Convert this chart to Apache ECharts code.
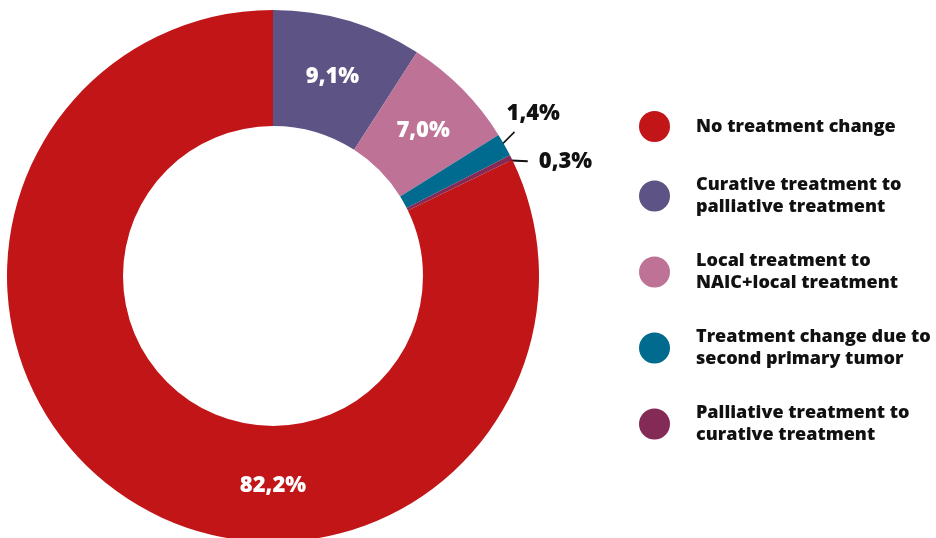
<!DOCTYPE html>
<html>
<head>
<meta charset="utf-8">
<script src="https://cdn.jsdelivr.net/npm/echarts@6/dist/echarts.min.js"></script>
<style>
  html, body { margin: 0; padding: 0; background: #ffffff; }
  #chart { width: 936px; height: 538px; }
</style>
</head>
<body>
<div id="chart"></div>
<script>
// Treatment change categories, in drawing order (clockwise from 12 o'clock)
const categories = [
  'Curative treatment to\npalliative treatment',
  'Local treatment to\nNAIC+local treatment',
  'Treatment change due to\nsecond primary tumor',
  'Palliative treatment to\ncurative treatment',
  'No treatment change'
];
const shares = [9.1, 7.0, 1.4, 0.3, 82.2];
const sliceColors = ['#5e5385', '#bd7296', '#006b8e', '#842a56', '#c21518'];
// Legend order as listed on the right
const legendOrder = [
  'No treatment change',
  'Curative treatment to\npalliative treatment',
  'Local treatment to\nNAIC+local treatment',
  'Treatment change due to\nsecond primary tumor',
  'Palliative treatment to\ncurative treatment'
];

const FONT = '"Open Sans", Lato, sans-serif';
const CENTER = [273, 276];
const R_IN = 150, R_OUT = 266;
const fmt = v => v.toFixed(1).replace('.', ',') + '%';

// mid angle (radians, clockwise from 12 o'clock) of slice i
const total = shares.reduce((a, b) => a + b, 0);
function midAngle(i) {
  let before = 0;
  for (let k = 0; k < i; k++) before += shares[k];
  return (before + shares[i] / 2) / total * Math.PI * 2;
}
function polar(r, a) {
  return [CENTER[0] + r * Math.sin(a), CENTER[1] - r * Math.cos(a)];
}

const insideLabel = {
  show: true, position: 'inside', color: '#ffffff',
  fontFamily: FONT, fontWeight: 800, fontSize: 22,
  formatter: p => fmt(p.value)
};
const outsideLabel = {
  show: true, position: 'outside', color: '#111111',
  fontFamily: FONT, fontWeight: 800, fontSize: 22,
  formatter: p => fmt(p.value)
};

const data = categories.map((name, i) => {
  const item = { name, value: shares[i], itemStyle: { color: sliceColors[i] } };
  if (i === 2 || i === 3) {
    item.label = outsideLabel;
    item.labelLine = { show: true, length: 10, length2: 10, lineStyle: { color: '#111', width: i === 3 ? 2 : 1.5 } };
  } else {
    item.label = insideLabel;
    item.labelLine = { show: false };
  }
  return item;
});

const chart = echarts.init(document.getElementById('chart'), null, { renderer: 'canvas' });
chart.setOption({
  animation: false,
  backgroundColor: '#ffffff',
  legend: {
    data: legendOrder,
    orient: 'vertical',
    left: 634,
    top: 106,
    itemWidth: 31,
    itemHeight: 31,
    itemGap: 32,
    icon: 'circle',
    selectedMode: false,
    textStyle: {
      fontFamily: FONT, fontWeight: 800, fontSize: 18, lineHeight: 22,
      color: '#111111', padding: [0, 0, 0, 21]
    }
  },
  series: [{
    type: 'pie',
    center: CENTER,
    radius: [R_IN, R_OUT],
    startAngle: 90,
    clockwise: true,
    avoidLabelOverlap: false,
    data,
    labelLayout: function (params) {
      const i = params.dataIndex;
      if (i === 0 || i === 1) {
        return { dy: 3 };
      }
      if (i === 4) {
        // large share: label straight below the hole
        return { x: CENTER[0], y: CENTER[1] + 210, align: 'center', verticalAlign: 'middle' };
      }
      if (i === 2) {
        // short leader rising out of the slice, label above and right of its end
        const a = midAngle(i);
        const p0 = polar(R_OUT - 8, a);
        const p1 = [p0[0] + 17, p0[1] - 17];
        return {
          x: p1[0] - 8, y: p1[1] - 18, align: 'left', verticalAlign: 'middle',
          labelLinePoints: [p0, p1, p1]
        };
      }
      if (i === 3) {
        // horizontal leader straight out to the right
        const a = midAngle(i);
        const p0 = polar(R_OUT - 6, a);
        const p1 = [p0[0] + 22, p0[1] + 1];
        return {
          x: p1[0] + 11, y: p1[1] + 1, align: 'left', verticalAlign: 'middle',
          labelLinePoints: [p0, p1, p1]
        };
      }
      return {};
    }
  }]
});
</script>
</body>
</html>
